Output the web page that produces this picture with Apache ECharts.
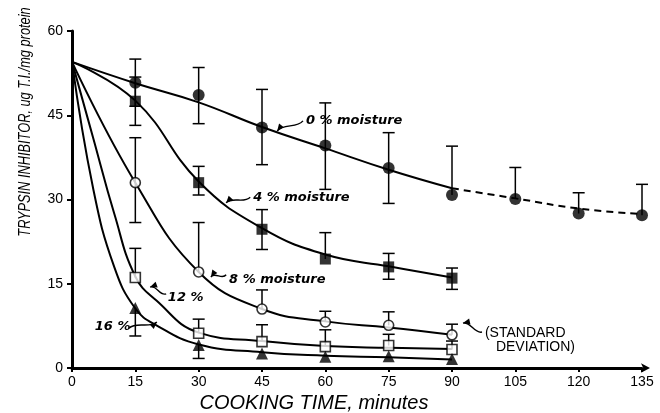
<!DOCTYPE html>
<html lang="en">
<head>
<meta charset="utf-8">
<title>trypsin inhibitor</title>
<script src="https://cdn.jsdelivr.net/npm/echarts@6/dist/echarts.min.js"></script>
<style>
  html, body { margin: 0; padding: 0; background: #fff; }
  #chart { width: 660px; height: 413px; }
</style>
</head>
<body>
<div id="chart"></div>
<script>
// cooking time, minutes
var minutes = [0, 15, 30, 45, 60, 75, 90, 105, 120, 135];

// measured trypsin inhibitor (ug T.I./mg protein) and SD arms, per moisture level
var moist0 = [54.5, 50.8, 48.6, 42.8, 39.6, 35.6, 30.8, 30.1, 27.5, 27.2];
var moist0Up = [0, 4.2, 4.9, 6.8, 7.6, 6.3, 8.7, 5.6, 3.7, 5.5];
var moist0Down = [0, 4.2, 5.1, 6.6, 7.8, 6.3, 0, 0, 0, 0];

var moist4 = [54.5, 47.5, 33.0, 24.7, 19.4, 18.0, 16.0];
var moist4Up = [0, 4.3, 2.9, 3.5, 4.7, 2.4, 1.8];
var moist4Down = [0, 4.3, 2.2, 3.6, 0, 2.2, 2.0];

var moist8 = [54.5, 33.0, 17.1, 10.5, 8.2, 7.6, 5.9];
var moist8Up = [0, 8.0, 8.8, 3.4, 1.9, 2.4, 1.9];
var moist8Down = [0, 7.1, 0, 0, 0, 0, 0];

var moist12 = [54.5, 16.1, 6.2, 4.7, 3.8, 4.0, 3.3];
var moist12Up = [0, 5.2, 2.5, 3.0, 3.0, 2.0, 1.5];
var moist12Down = [0, 0, 0, 0, 0, 0, 0];

var moist16 = [54.5, 10.7, 4.1, 2.6, 2.0, 2.1, 1.6];
var moist16Up = [0, 0, 0, 0, 0, 0, 0];
var moist16Down = [0, 5.0, 2.4, 0, 0, 0, 0];

// drawn (fitted) curves
var fitMinutes = [0, 15, 30, 45, 60, 75, 90, 105, 120, 135];
var fit0 = [54.5, 50.7, 47.3, 42.9, 39.1, 35.3, 32.0, 30.2, 28.4, 27.4];
var fit4 = [54.5, 47.6, 33.2, 24.9, 20.2, 18.1, 16.1];
var fit8 = [54.5, 33.0, 17.1, 10.5, 8.3, 7.2, 5.9];
var steepMinutes = [0, 5, 10, 15, 20, 30, 45, 60, 75, 90];
var fit12 = [54.5, 41.0, 27.5, 16.3, 12.0, 6.3, 4.8, 3.9, 3.6, 3.4];
var fit16 = [54.5, 32.0, 18.0, 10.6, 7.6, 4.2, 2.8, 2.2, 1.9, 1.5];

// text notes: [label, text anchor, leader start, leader tip] in data units
var notes = [
    ['0 % moisture', [55.4, 44.0], [54.7, 44.0], [48.6, 42.2]],
    ['4 % moisture', [42.9, 30.3], [42.2, 30.4], [36.5, 29.4]],
    ['8 % moisture', [37.2, 15.8], [36.5, 16.6], [32.9, 16.2]],
    ['12 %', [22.7, 12.6], [22.3, 13.2], [18.5, 14.4]],
    ['16 %', [5.4, 7.3], [13.5, 7.1], [20.1, 8.2]]
];
var sdNote = ['(STANDARD', 'DEVIATION)'];

var FONT = 'Liberation Sans';

function pairs(xs, vals, from, to) {
    var out = [];
    for (var i = from; i < to; i++) out.push([xs[i], vals[i]]);
    return out;
}

function curve(xs, vals, from, to, dashed) {
    return {
        type: 'line',
        data: pairs(xs, vals, from, to),
        smooth: 0.45,
        showSymbol: false,
        silent: true,
        z: 1,
        lineStyle: { color: '#000', width: 2, type: dashed ? [7, 5] : 'solid' }
    };
}

function points(vals, symbol, size, hollow) {
    return {
        type: 'scatter',
        data: pairs(minutes, vals, 1, vals.length),
        symbol: symbol,
        symbolSize: size,
        silent: true,
        z: 4,
        itemStyle: hollow
            ? { color: '#fff', borderColor: '#000', borderWidth: 1.6 }
            : { color: '#000' }
    };
}

function errorBars(vals, up, down) {
    var data = [];
    for (var i = 1; i < vals.length; i++) {
        if (up[i] || down[i]) data.push([minutes[i], vals[i], up[i], down[i]]);
    }
    return {
        type: 'custom',
        data: data,
        encode: { x: 0, y: 1 },
        silent: true,
        z: 3,
        renderItem: function (params, api) {
            var x = api.value(0), v = api.value(1), u = api.value(2), d = api.value(3);
            var top = api.coord([x, v + u]);
            var bot = api.coord([x, v - d]);
            var st = { stroke: '#000', lineWidth: 1.5 };
            var kids = [{ type: 'line', shape: { x1: top[0], y1: top[1], x2: bot[0], y2: bot[1] }, style: st }];
            if (u > 0) kids.push({ type: 'line', shape: { x1: top[0] - 6, y1: top[1], x2: top[0] + 6, y2: top[1] }, style: st });
            if (d > 0) kids.push({ type: 'line', shape: { x1: bot[0] - 6, y1: bot[1], x2: bot[0] + 6, y2: bot[1] }, style: st });
            return { type: 'group', children: kids };
        }
    };
}

var chart = echarts.init(document.getElementById('chart'), null, { renderer: 'canvas' });

var option = {
    animation: false,
    backgroundColor: '#fff',
    grid: { left: 72, right: 18, top: 31, bottom: 45 },
    xAxis: {
        type: 'value',
        min: 0, max: 135, interval: 15,
        splitLine: { show: false },
        axisLine: {
            lineStyle: { color: '#000', width: 3 },
            symbol: ['none', 'arrow'], symbolSize: [7, 9], symbolOffset: [0, 8]
        },
        axisTick: { show: true, length: 4, lineStyle: { color: '#000', width: 2 } },
        axisLabel: { color: '#000', fontFamily: FONT, fontSize: 14, margin: 7 }
    },
    yAxis: {
        type: 'value',
        min: 0, max: 60, interval: 15,
        splitLine: { show: false },
        axisLine: { show: true, lineStyle: { color: '#000', width: 3 } },
        axisTick: { show: true, length: 5, lineStyle: { color: '#000', width: 2 } },
        axisLabel: { color: '#000', fontFamily: FONT, fontSize: 14, margin: 9 }
    },
    series: [
        curve(fitMinutes, fit0, 0, 7, false),
        curve(fitMinutes, fit0, 6, 10, true),
        curve(fitMinutes, fit4, 0, 7, false),
        curve(fitMinutes, fit8, 0, 7, false),
        curve(steepMinutes, fit12, 0, 10, false),
        curve(steepMinutes, fit16, 0, 10, false),
        errorBars(moist0, moist0Up, moist0Down),
        errorBars(moist4, moist4Up, moist4Down),
        errorBars(moist8, moist8Up, moist8Down),
        errorBars(moist12, moist12Up, moist12Down),
        errorBars(moist16, moist16Up, moist16Down),
        points(moist0, 'circle', 12, false),
        points(moist4, 'rect', 11, false),
        points(moist8, 'circle', 10, true),
        points(moist12, 'rect', 10, true),
        points(moist16, 'triangle', 12, false)
    ]
};
chart.setOption(option);

// titles and notes
function px(p) { return chart.convertToPixel({ gridIndex: 0 }, p); }

function leader(from, to) {
    var a = px(from), b = px(to);
    var dx = b[0] - a[0], dy = b[1] - a[1];
    var len = Math.sqrt(dx * dx + dy * dy);
    var nx = -dy / len * 5, ny = dx / len * 5;
    var cp2 = [b[0] - dx * 0.3 + nx, b[1] - dy * 0.3 + ny];
    var out = [{
        type: 'bezierCurve',
        shape: {
            x1: a[0], y1: a[1], x2: b[0], y2: b[1],
            cpx1: a[0] + dx * 0.3 - nx, cpy1: a[1] + dy * 0.3 - ny,
            cpx2: cp2[0], cpy2: cp2[1]
        },
        style: { stroke: '#000', lineWidth: 1.4, fill: null }
    }];
    var ex = b[0] - cp2[0], ey = b[1] - cp2[1];
    var el = Math.sqrt(ex * ex + ey * ey);
    ex /= el; ey /= el;
    out.push({
        type: 'polygon',
        shape: { points: [
            [b[0], b[1]],
            [b[0] - ex * 7 - ey * 3, b[1] - ey * 7 + ex * 3],
            [b[0] - ex * 7 + ey * 3, b[1] - ey * 7 - ex * 3]
        ] },
        style: { fill: '#000' }
    });
    return out;
}

var graphics = [
    {
        type: 'text', x: 26, y: 122, rotation: Math.PI / 2, scaleX: 0.8,
        style: {
            text: 'TRYPSIN INHIBITOR, ug T.I./mg protein',
            fontFamily: FONT, fontSize: 16, fontStyle: 'italic',
            fill: '#000', align: 'center', verticalAlign: 'middle'
        }
    },
    {
        type: 'text', x: 314, y: 403,
        style: {
            text: 'COOKING TIME, minutes',
            fontFamily: FONT, fontSize: 20, fontStyle: 'italic',
            fill: '#000', align: 'center', verticalAlign: 'middle'
        }
    }
];

notes.forEach(function (n) {
    var t = px(n[1]);
    graphics.push({
        type: 'text', x: t[0], y: t[1],
        style: {
            text: n[0], fontFamily: 'DejaVu Sans', fontSize: 13, fontStyle: 'italic', fontWeight: 'bold',
            fill: '#000', align: 'left', verticalAlign: 'middle'
        }
    });
    graphics = graphics.concat(leader(n[2], n[3]));
});

var sd1 = px([97.8, 6.2]), sd2 = px([100.4, 3.7]);
graphics.push({
    type: 'text', x: sd1[0], y: sd1[1],
    style: { text: sdNote[0], fontFamily: FONT, fontSize: 14, fill: '#000', align: 'left', verticalAlign: 'middle' }
});
graphics.push({
    type: 'text', x: sd2[0], y: sd2[1],
    style: { text: sdNote[1], fontFamily: FONT, fontSize: 14, fill: '#000', align: 'left', verticalAlign: 'middle' }
});
graphics = graphics.concat(leader([97.1, 6.4], [92.6, 8.0]));

chart.setOption({ graphic: graphics });
</script>
</body>
</html>
